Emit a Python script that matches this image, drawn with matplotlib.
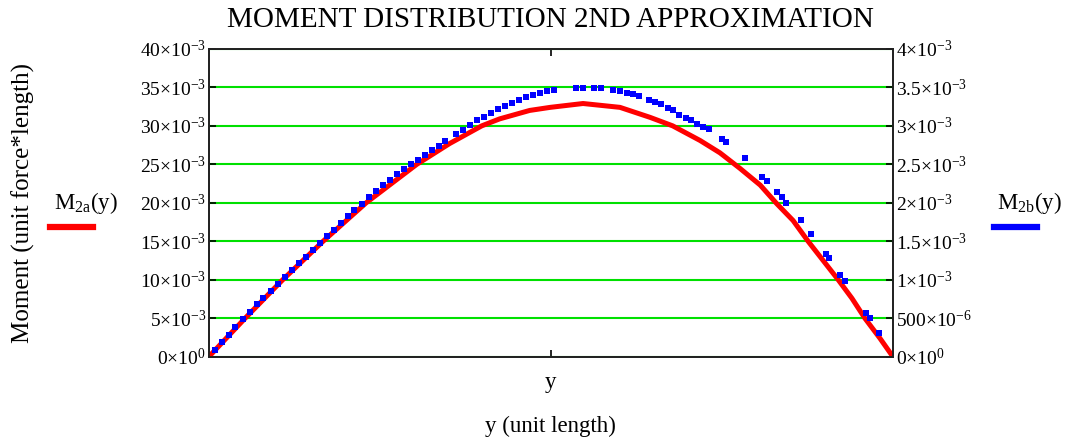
import numpy as np
import matplotlib
matplotlib.use("Agg")
import matplotlib.pyplot as plt
from matplotlib.lines import Line2D

plt.rcParams['font.family'] = ['Liberation Serif', 'DejaVu Serif']
plt.rcParams['mathtext.fontset'] = 'custom'
plt.rcParams['mathtext.rm'] = 'Liberation Serif'
plt.rcParams['mathtext.it'] = 'Liberation Serif:italic'

# M2a(y) - left axis, values in 1e-3
y_a = [0.0, 0.053, 0.108, 0.167, 0.230, 0.304, 0.352, 0.399, 0.425, 0.469, 0.499,
       0.547, 0.601, 0.645, 0.678, 0.718, 0.747, 0.776, 0.806, 0.830, 0.854,
       0.876, 0.920, 0.940, 0.959, 0.981, 1.0]
m_2a = [0.0, 5.0, 10.0, 15.0, 20.0, 25.0, 27.7, 30.0, 30.9, 32.0, 32.4,
        32.9, 32.4, 31.1, 30.0, 28.1, 26.5, 24.5, 22.3, 19.9, 17.7,
        15.0, 10.0, 7.6, 5.0, 2.4, 0.0]

# M2b(y) - right axis, values in 1e-3
y_b = [0.009, 0.019, 0.029, 0.039, 0.050, 0.060, 0.070, 0.080, 0.091, 0.101,
       0.111, 0.121, 0.132, 0.142, 0.152, 0.162, 0.173, 0.183, 0.193, 0.203,
       0.213, 0.224, 0.234, 0.244, 0.254, 0.265, 0.275, 0.285, 0.295, 0.306,
       0.316, 0.326, 0.336, 0.346, 0.361, 0.371, 0.382, 0.392, 0.402, 0.412,
       0.423, 0.433, 0.443, 0.453, 0.463, 0.474, 0.484, 0.494, 0.504, 0.537,
       0.547, 0.563, 0.573, 0.591, 0.601, 0.611, 0.620, 0.629, 0.643, 0.652,
       0.661, 0.671, 0.678, 0.687, 0.697, 0.705, 0.713, 0.722, 0.731, 0.750,
       0.756, 0.784, 0.808, 0.816, 0.830, 0.838, 0.844, 0.865, 0.880, 0.902,
       0.906, 0.923, 0.930, 0.961, 0.966, 0.980]
m_2b = [0.09, 0.19, 0.29, 0.39, 0.49, 0.58, 0.68, 0.77, 0.86, 0.95,
        1.04, 1.13, 1.22, 1.30, 1.39, 1.48, 1.57, 1.65, 1.74, 1.83,
        1.91, 1.99, 2.07, 2.15, 2.23, 2.30, 2.37, 2.44, 2.50, 2.56,
        2.62, 2.68, 2.74, 2.80, 2.89, 2.95, 3.01, 3.07, 3.12, 3.17,
        3.22, 3.26, 3.30, 3.34, 3.37, 3.40, 3.42, 3.45, 3.47, 3.49,
        3.49, 3.49, 3.49, 3.46, 3.45, 3.43, 3.41, 3.39, 3.34, 3.31,
        3.28, 3.23, 3.20, 3.14, 3.10, 3.07, 3.03, 2.99, 2.96, 2.83,
        2.79, 2.58, 2.34, 2.29, 2.14, 2.07, 2.00, 1.78, 1.60, 1.34,
        1.29, 1.06, 0.98, 0.57, 0.50, 0.31]

left_ticks = [0, 5, 10, 15, 20, 25, 30, 35, 40]
left_labels = [r"$0{\times}10^{0}$"] + [r"$%d{\times}10^{-3}$" % v for v in left_ticks[1:]]
right_ticks = [0, 0.5, 1.0, 1.5, 2.0, 2.5, 3.0, 3.5, 4.0]
right_labels = [r"$0{\times}10^{0}$", r"$500{\times}10^{-6}$", r"$1{\times}10^{-3}$",
                r"$1.5{\times}10^{-3}$", r"$2{\times}10^{-3}$", r"$2.5{\times}10^{-3}$",
                r"$3{\times}10^{-3}$", r"$3.5{\times}10^{-3}$", r"$4{\times}10^{-3}$"]

fig = plt.figure(figsize=(10.65, 4.4), dpi=100)
ax = fig.add_axes([0.196, 0.189, 0.6425, 0.700])
ax2 = ax.twinx()

ax.plot(y_a, np.array(m_2a) * 1e-3, color='#ff0000', lw=3.6, solid_capstyle='butt', zorder=3)
ax2.plot(y_b, np.array(m_2b) * 1e-3, ls='none', marker='s', ms=4.2, mew=0,
         color='#0000ff', zorder=4)

ax.set_xlim(0, 1)
ax.set_ylim(0, 40e-3)
ax2.set_ylim(0, 4e-3)

ax.set_yticks(np.array(left_ticks) * 1e-3)
ax.set_yticklabels(left_labels)
ax2.set_yticks(np.array(right_ticks) * 1e-3)
ax2.set_yticklabels(right_labels)
ax.set_xticks([0.5])
ax.set_xticklabels([])

ax.grid(True, axis='y', color='#00e000', lw=1.5)
ax.set_axisbelow(True)

for a in (ax, ax2):
    a.tick_params(direction='in', length=5, width=1.2, labelsize=14, pad=2,
                  top=True, colors='black')
    for s in a.spines.values():
        s.set_linewidth(1.3)
        s.set_color('#222222')

fig.text(0.517, 0.955, "MOMENT DISTRIBUTION 2ND APPROXIMATION", fontsize=21,
         ha='center', va='center')
fig.text(0.022, 0.539, "Moment (unit force*length)", fontsize=18, rotation=90,
         ha='center', va='center')
fig.text(0.517, 0.13, "y", fontsize=16.5, ha='center', va='center')
fig.text(0.517, 0.032, "y (unit length)", fontsize=16.5, ha='center', va='center')

# legend entries outside the plot
fig.text(0.081, 0.539, r"$\mathrm{M_{2a}(y)}$", fontsize=16.5, ha='center', va='center')
fig.add_artist(Line2D([0.047, 0.087], [0.484, 0.484], color='#ff0000', lw=4.5,
                      transform=fig.transFigure))
fig.text(0.967, 0.539, r"$\mathrm{M_{2b}(y)}$", fontsize=16.5, ha='center', va='center')
fig.add_artist(Line2D([0.933, 0.974], [0.484, 0.484], color='#0000ff', lw=4.5,
                      transform=fig.transFigure))

fig.savefig("out.png", dpi=100)
